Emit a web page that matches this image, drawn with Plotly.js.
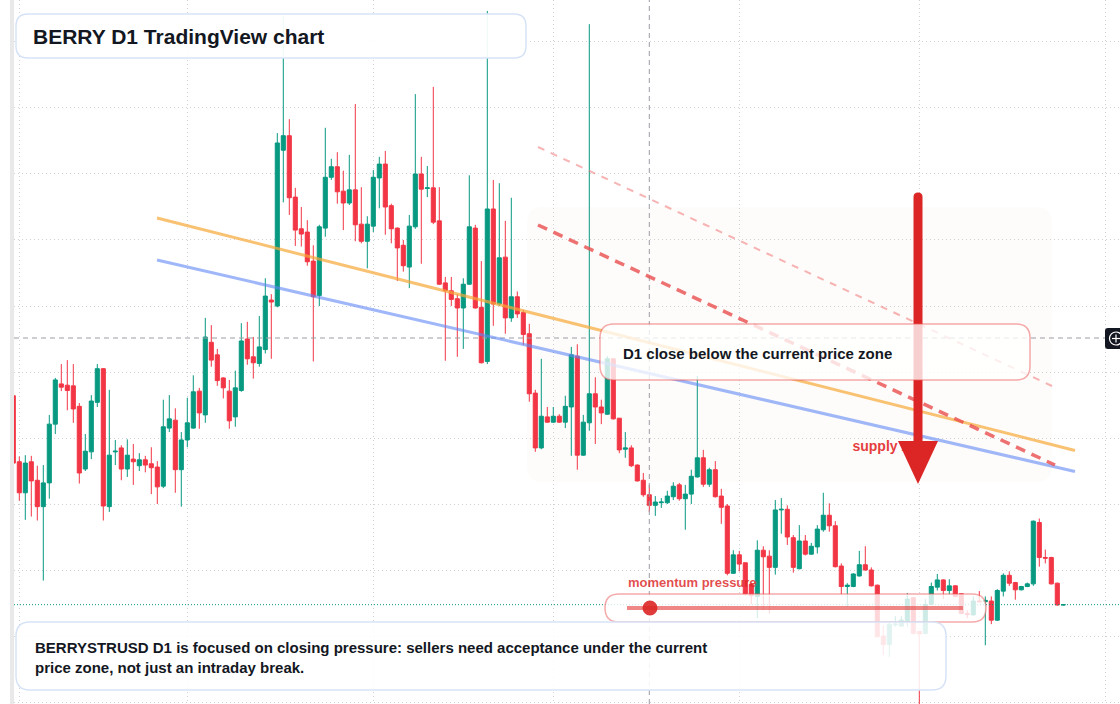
<!DOCTYPE html>
<html>
<head>
<meta charset="utf-8">
<script src="https://cdn.plot.ly/plotly-3.0.1.min.js"></script>
<style>html,body{margin:0;padding:0;background:#fff;}#chart{width:1120px;height:704px;}</style>
</head>
<body>
<div id="chart"></div>
<script>
// ---- Data (daily candles, first candle 2025-01-31) ----
const startDate = '2025-01-31';
const open = [46.4,36.4,31.7,36.4,33.6,29.6,33.2,42.1,48.2,48.0,47.9,44.8,35.3,37.9,45.4,50.5,29.6,37.9,38.5,35.3,36.8,35.8,36.7,36.1,35.6,32.7,41.5,42.7,35.2,39.7,41.5,47.1,43.5,54.5,52.6,49.1,47.1,43.2,47.2,55.0,52.3,51.3,53.4,60.9,60.0,
83.6,85.8,76.5,71.7,71.2,66.8,61.6,71.8,79.5,81.1,77.4,75.6,77.6,72.4,69.8,72.1,79.4,81.5,75.2,71.8,69.2,65.9,72.0,80.0,77.8,77.9,72.9,63.5,62.3,61.1,59.7,63.3,71.8,59.8,51.6,74.7,60.3,67.4,58.2,61.4,59.0,55.8,
46.8,38.5,43.2,42.4,43.3,42.4,44.7,52.4,37.4,42.3,46.7,44.7,43.6,52.0,43.0,38.3,38.5,35.9,33.6,31.4,29.8,30.2,30.2,31.1,32.9,30.8,31.5,34.1,37.0,33.0,35.2,31.2,29.7,19.5,22.3,21.1,17.8,16.0,23.0,22.1,20.4,29.1,29.2,24.9,20.2,24.4,22.4,23.5,26.1,28.3,26.7,20.6,17.5,17.5,19.1,20.8,20.0,17.7,10.0,8.7,11.7,11.5,12.2,15.8,10.7,10.4,14.8,17.4,18.5,16.9,17.6,16.4,13.4,13.2,15.3,15.2,15.3,12.4,16.8,19.2,18.1,17.0,17.5,17.9,27.2,21.9,21.9,18.0,14.7];
const high = [46.5,37.2,37.4,37.3,35.8,35.9,43.5,49.1,51.2,51.8,51.2,45.3,40.6,46.5,51.2,50.6,47.3,39.7,38.9,39.8,39.1,37.7,37.3,38.6,36.5,45.8,46.5,44.5,40.9,46.1,49.5,47.6,58.2,57.1,53.5,49.2,48.8,50.2,57.4,57.6,55.3,58.5,64.2,61.8,86.2,
104.0,88.3,77.9,75.0,73.0,69.2,72.3,87.0,82.3,83.3,80.5,82.9,90.6,78.0,73.6,80.6,82.6,83.5,75.5,71.9,70.0,73.8,92.1,82.6,81.2,93.2,78.0,64.4,64.4,61.8,64.2,79.8,72.3,66.8,104.7,79.1,78.6,72.9,76.4,62.2,59.4,57.3,
47.3,52.0,44.7,44.7,43.6,46.4,53.8,54.2,43.5,102.7,49.2,45.8,52.4,52.1,43.0,40.9,38.9,36.0,34.7,32.9,31.2,30.9,32.0,33.3,33.2,32.9,35.2,49.4,38.2,35.5,36.5,32.3,30.0,23.0,22.9,21.1,18.0,24.5,23.6,23.0,30.6,30.9,29.8,25.3,26.8,25.3,24.1,26.8,31.7,30.1,27.4,21.0,18.0,19.5,22.9,23.6,20.4,17.8,11.6,11.9,13.0,13.0,16.5,15.9,10.8,15.6,18.1,19.4,18.6,18.6,17.7,16.5,13.9,16.0,16.8,16.0,16.0,17.1,19.5,19.8,18.2,17.6,18.1,27.5,27.8,23.1,22.0,18.1,14.8];
const low = [36.0,30.5,27.6,28.1,27.5,18.4,30.8,40.6,47.1,44.2,42.3,33.1,35.0,36.8,44.7,27.5,28.8,35.9,33.6,34.1,32.9,35.0,34.8,31.5,30.0,32.4,40.9,31.7,29.6,38.6,41.4,41.4,42.3,50.8,47.9,46.0,41.4,41.7,47.0,51.1,49.0,50.8,52.8,52.0,59.8,
75.7,73.8,69.1,69.0,66.1,51.6,60.0,70.5,79.1,75.5,71.5,75.3,69.8,69.5,65.7,71.2,74.8,70.8,69.5,63.8,65.2,62.7,71.7,66.4,76.5,72.4,63.2,51.7,60.0,52.3,53.5,63.2,59.6,51.3,51.2,57.0,60.0,55.8,57.6,58.2,54.1,45.5,
37.9,38.3,42.3,42.3,42.3,41.5,37.3,35.2,37.3,41.1,39.1,42.1,43.5,42.8,37.7,37.0,35.6,33.4,31.1,28.8,28.2,29.4,30.0,30.6,30.5,26.1,30.0,34.0,32.6,32.6,31.0,27.0,19.2,19.4,19.8,16.1,14.8,12.7,13.9,13.4,19.3,25.5,23.8,19.6,20.1,22.2,22.3,22.5,25.8,25.8,20.4,16.3,14.4,17.4,19.0,19.9,17.5,9.8,7.1,6.8,11.4,11.4,11.4,10.2,-3.0,10.3,14.7,16.9,15.6,16.3,15.9,13.3,12.7,13.1,15.1,8.6,11.8,12.3,16.0,17.6,15.5,16.9,17.4,17.6,20.5,21.0,17.8,14.6,14.6];
const close = [36.2,31.7,36.2,33.5,29.6,33.2,42.1,48.8,47.7,47.2,44.4,34.7,38.0,45.6,50.5,29.7,37.4,38.0,35.3,37.4,36.4,36.7,35.9,35.5,32.6,41.7,42.9,35.2,39.7,42.3,47.0,43.8,55.3,51.8,48.7,47.6,42.6,47.6,54.7,52.0,51.4,53.8,61.5,60.6,84.7,
85.8,76.4,71.5,70.9,66.7,61.4,72.0,79.5,81.1,77.3,75.6,77.6,72.3,69.8,72.4,79.5,81.5,75.0,71.7,68.8,66.1,72.1,80.0,77.7,77.9,72.7,63.3,62.3,61.0,59.7,63.3,72.0,59.7,51.4,74.7,60.3,67.3,58.2,61.4,58.8,55.7,46.7,
38.5,43.3,42.4,43.3,42.4,44.8,52.6,37.4,42.4,46.7,44.7,43.8,52.0,42.9,38.2,38.5,35.8,33.5,31.4,29.8,30.3,30.3,31.2,32.7,30.8,31.5,34.2,37.0,33.0,35.2,31.1,29.5,19.5,22.3,20.9,16.4,16.1,23.0,22.0,20.4,29.1,29.2,25.0,20.4,24.4,22.4,23.6,26.2,28.3,26.7,20.5,17.5,17.7,19.4,20.8,20.0,17.6,9.9,8.7,11.8,11.8,12.4,15.6,10.4,10.3,14.8,17.5,18.5,16.9,17.6,16.0,13.4,13.3,15.3,15.2,15.4,12.4,16.9,19.2,18.0,17.0,17.5,17.9,27.4,21.9,21.8,17.9,14.7,14.75];

// ---- Overlay settings ----
const crosshairIndex = 105;     // candle under the vertical crosshair
const crosshairPrice = 55.15;
const UP = '#089981', DOWN = '#F23645';
const FONT = 'Liberation Sans, Arial, sans-serif';

// dates
const DAY = 86400000;
const t0 = Date.parse(startDate + 'T00:00:00Z');
const dates = open.map((_, k) => new Date(t0 + k * DAY).toISOString().slice(0, 10));
const dateAt = i => new Date(t0 + (i + 1) * DAY).toISOString().replace('T', ' ').slice(0, 19);

// pixel -> paper helpers for overlay drawing
const W = 1120, H = 704, ML = 14;
const PX = x => (x - ML) / (W - ML);
const PY = y => 1 - y / H;
const P = (x, y) => PX(x) + ',' + PY(y);
function rr(x0, y0, x1, y1, r) {
  return `M${P(x0 + r, y0)} L${P(x1 - r, y0)} Q${P(x1, y0)} ${P(x1, y0 + r)} L${P(x1, y1 - r)} Q${P(x1, y1)} ${P(x1 - r, y1)} L${P(x0 + r, y1)} Q${P(x0, y1)} ${P(x0, y1 - r)} L${P(x0, y0 + r)} Q${P(x0, y0)} ${P(x0 + r, y0)} Z`;
}
const pp = {xref: 'paper', yref: 'paper'};
function seg(x0, y0, x1, y1, line) {
  return Object.assign({type: 'line', x0: PX(x0), y0: PY(y0), x1: PX(x1), y1: PY(y1), line, layer: 'above'}, pp);
}
function path(d, fill, line, layer) {
  return Object.assign({type: 'path', path: d, fillcolor: fill, line: line || {width: 0}, layer: layer || 'above'}, pp);
}

const candles = {
  type: 'candlestick', x: dates, open, high, low, close,
  increasing: {line: {color: UP, width: 1}, fillcolor: UP},
  decreasing: {line: {color: DOWN, width: 1}, fillcolor: DOWN},
  whiskerwidth: 0, hoverinfo: 'skip', showlegend: false
};

const supplyLabel = {
  type: 'scatter', mode: 'text', x: [dateAt(145.6)], y: [38.5],
  text: ['<b>supply zone</b>'], textposition: 'middle center',
  textfont: {family: FONT, size: 14, color: '#e53e3e'}, hoverinfo: 'skip', showlegend: false
};

const lastClose = close[close.length - 1];

const shapes = [
  // supply zone
  path(rr(527, 207, 1052, 482, 16), 'rgba(240,180,130,0.045)', null, 'between'),
  // crosshair
  {type: 'line', xref: 'x', yref: 'paper', x0: dates[crosshairIndex + 1], x1: dates[crosshairIndex + 1], y0: 0, y1: 1,
   line: {color: '#9a9da5', width: 1, dash: '5px,4px'}, layer: 'above'},
  {type: 'line', xref: 'paper', yref: 'y', x0: 0, x1: PX(1105), y0: crosshairPrice, y1: crosshairPrice,
   line: {color: '#9a9da5', width: 1, dash: '5px,4px'}, layer: 'above'},
  // last price line
  {type: 'line', xref: 'paper', yref: 'y', x0: 0, x1: 1, y0: lastClose, y1: lastClose,
   line: {color: UP, width: 1, dash: '1px,2px'}, layer: 'above'},
  // trend lines
  seg(157, 218, 1075, 450.5, {color: 'rgba(247,168,55,0.7)', width: 3}),
  seg(157, 260, 1075, 471.5, {color: 'rgba(95,135,245,0.6)', width: 3}),
  seg(538, 147, 1052, 386, {color: 'rgba(240,105,105,0.5)', width: 2, dash: '7px,7px'}),
  seg(538, 225, 1055, 465, {color: 'rgba(232,78,78,0.8)', width: 3.5, dash: '10px,7px'}),
  // arrow
  path(`M${P(913.5, 445)} L${P(913.5, 197)} Q${P(913.5, 192.5)} ${P(918, 192.5)} Q${P(922.5, 192.5)} ${P(922.5, 197)} L${P(922.5, 445)} Z`, '#dc2626'),
  path(`M${P(898, 441)} L${P(938, 441)} L${P(918, 484)} Z`, '#dc2626'),
  // D1 box
  path(rr(600, 324, 1030, 380, 14), 'rgba(255,255,255,0.78)', {color: 'rgba(235,85,85,0.5)', width: 1.5}),
  // momentum pill
  path(rr(605, 594, 986, 622, 14), 'rgba(255,255,255,0.8)', {color: 'rgba(235,85,85,0.5)', width: 1.5}),
  seg(627, 608, 963, 608, {color: 'rgba(230,70,70,0.65)', width: 4}),
  Object.assign({type: 'circle', x0: PX(642.5), x1: PX(657.5), y0: PY(615.5), y1: PY(600.5), fillcolor: 'rgba(220,38,38,0.9)', line: {width: 0}, layer: 'above'}, pp),
  // bottom text box
  path(rr(16, 622, 946, 690, 14), 'rgba(255,255,255,0.88)', {color: '#d6e3f7', width: 1.5}),
  // title box
  path(rr(16, 14, 526, 58, 12), 'rgba(255,255,255,0.92)', {color: '#d6e3f7', width: 1.5}),
  // left border band
  Object.assign({type: 'rect', x0: PX(10), x1: PX(14), y0: 0, y1: 1, fillcolor: '#e9e9e9', line: {width: 0}, layer: 'above'}, pp),
  // crosshair plus button
  path(rr(1105, 328, 1124, 349, 3), '#131722'),
  Object.assign({type: 'circle', x0: PX(1109.5), x1: PX(1122.5), y0: PY(345), y1: PY(332), line: {color: '#ffffff', width: 1.2}, layer: 'above'}, pp),
  seg(1112, 338.5, 1120, 338.5, {color: '#ffffff', width: 1.2}),
  seg(1116, 334.5, 1116, 342.5, {color: '#ffffff', width: 1.2})
];

const ann = (x, y, text, size, color, extra) => Object.assign({
  xref: 'paper', yref: 'paper', x: PX(x), y: PY(y), text, showarrow: false,
  xanchor: 'left', yanchor: 'middle', align: 'left',
  font: {family: FONT, size, color}
}, extra || {});

const annotations = [
  ann(31, 36, '<b>BERRY D1 TradingView chart</b>', 21, '#131722'),
  ann(621, 353, '<b>D1 close below the current price zone</b>', 15, '#131722'),
  ann(33, 657, '<b>BERRYSTRUSD D1 is focused on closing pressure: sellers need acceptance under the current<br>price zone, not just an intraday break.</b>', 15, '#131722'),
  ann(626, 582, '<b>momentum pressure</b>', 13, 'rgba(220,38,38,0.82)')
];

const gridStyle = {showgrid: true, gridcolor: '#cfd1d6', gridwidth: 1, griddash: '1px,3px',
  showticklabels: false, ticks: '', zeroline: false, showline: false, fixedrange: true};

const layout = {
  width: W, height: H,
  margin: {l: ML, r: 0, t: 0, b: 0, pad: 0},
  paper_bgcolor: '#ffffff', plot_bgcolor: '#ffffff',
  showlegend: false,
  boxgap: 0.15, boxgroupgap: 0.2,
  xaxis: Object.assign({type: 'date', range: [dateAt(-0.883), dateAt(183.45)], dtick: 'M1', tick0: '2025-01-01',
    rangeslider: {visible: false}}, gridStyle),
  yaxis: Object.assign({range: [-0.30, 106.36], dtick: 10, tick0: 0}, gridStyle),
  shapes, annotations
};

Plotly.newPlot('chart', [candles, supplyLabel], layout, {staticPlot: true, displayModeBar: false});
</script>
</body>
</html>
